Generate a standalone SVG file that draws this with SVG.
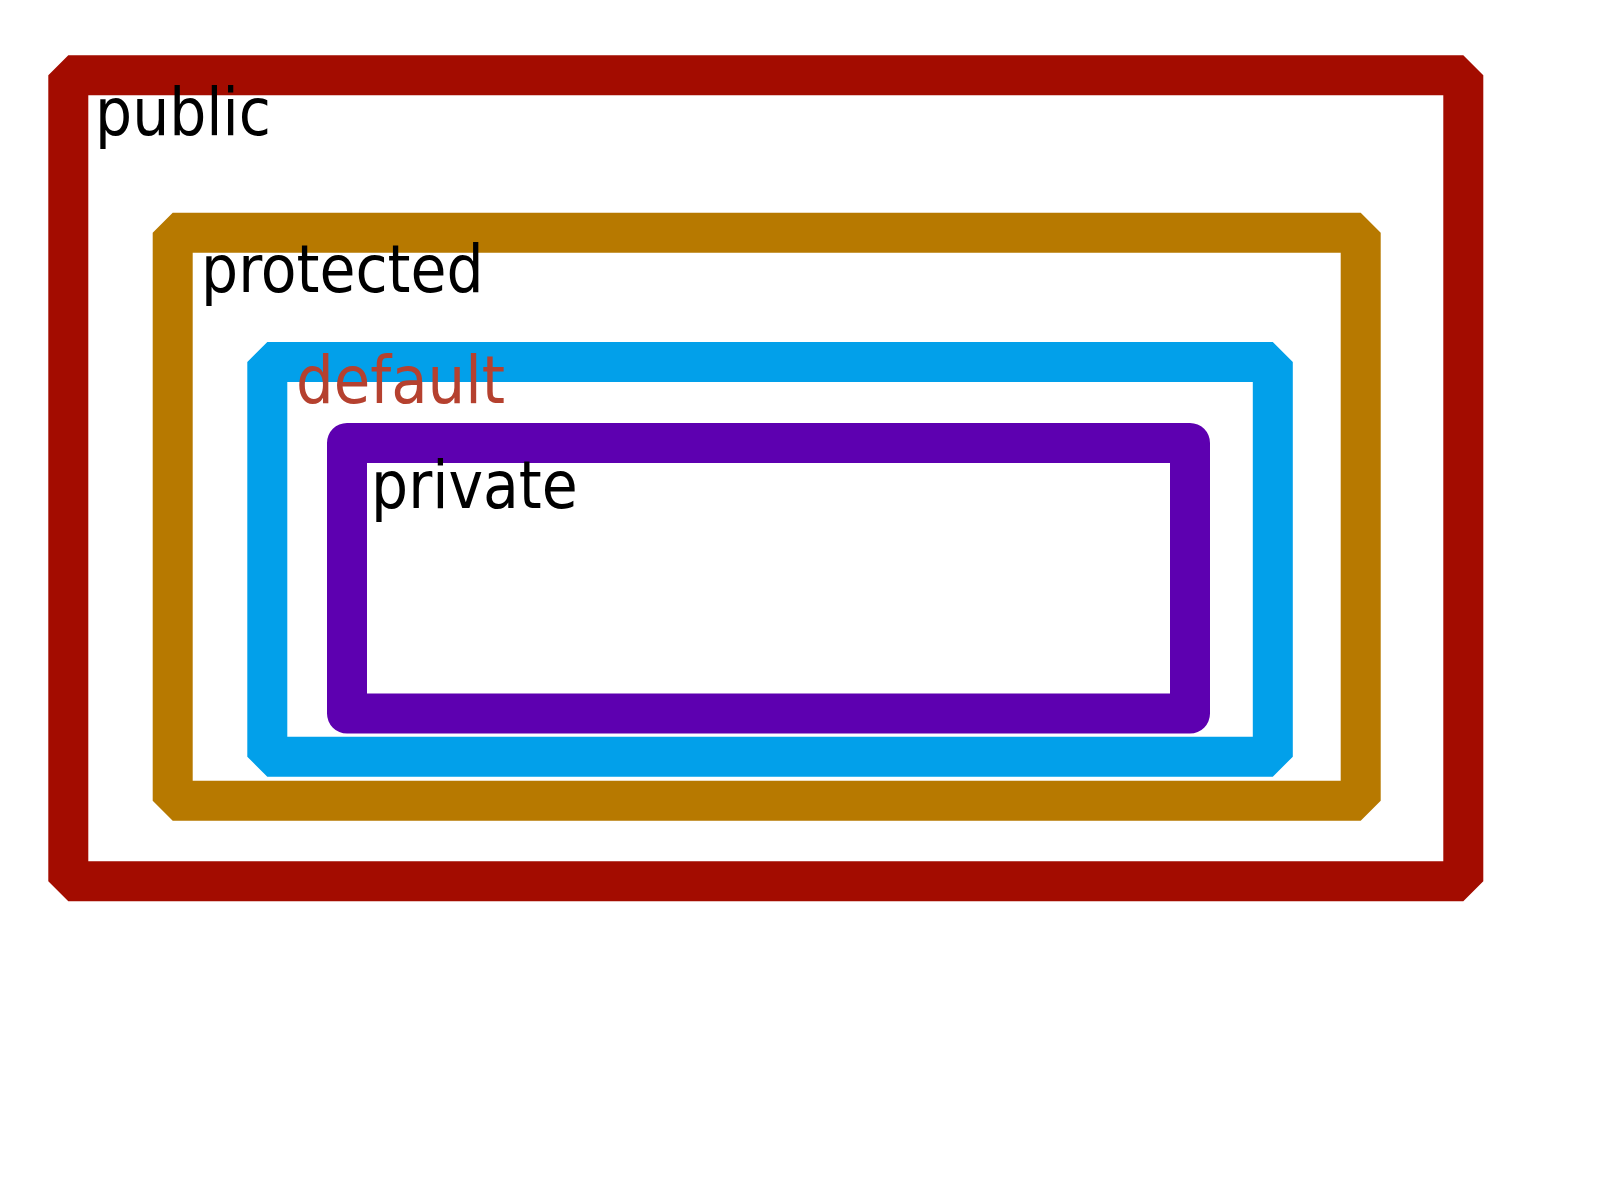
<svg xmlns="http://www.w3.org/2000/svg" width="1600" height="1200" viewBox="0 0 1600 1200">
<style>
.box{fill:none;stroke-width:40;stroke-linejoin:bevel}
.lbl{font-family:"DejaVu Sans Condensed","DejaVu Sans",sans-serif;font-stretch:condensed;font-size:65px;fill:#000}
</style>
<rect width="1600" height="1200" fill="#fff"/>
<g id="public">
<rect class="box" x="68.3" y="75.3" width="1395" height="806" stroke="#a30c00"/>
<text class="lbl" x="95" y="135">public</text>
</g>
<g id="protected">
<rect class="box" x="172.7" y="232.7" width="1188" height="568" stroke="#b77900"/>
<text class="lbl" x="201" y="292">protected</text>
</g>
<g id="default">
<rect class="box" x="267.3" y="362" width="1005.5" height="394.7" stroke="#02a0ea"/>
<text class="lbl" x="296" y="403" style="fill:#b5412f;font-size:66px">default</text>
</g>
<g id="private">
<rect class="box" x="347" y="443" width="843" height="270.5" stroke="#5d00b0" style="stroke-linejoin:round"/>
<text class="lbl" x="371" y="508">private</text>
</g>
<g id="connectors"/>
</svg>
